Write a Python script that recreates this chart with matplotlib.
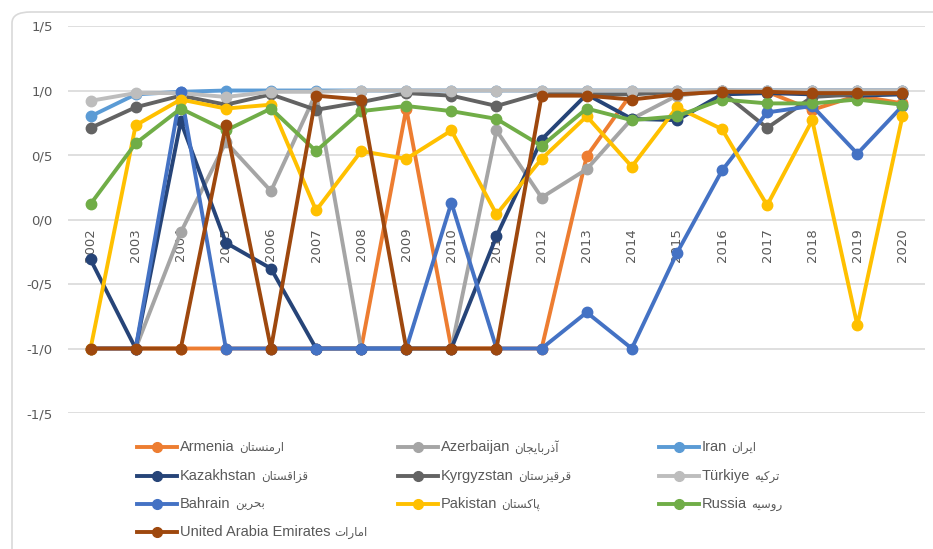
import matplotlib.pyplot as plt
from matplotlib.lines import Line2D
from matplotlib.patches import FancyBboxPatch

years = list(range(2002, 2021))

armenia = [-1, -1, -1, -1, -1, -1, -1, 0.86, -1, -1, -1, 0.49, 0.98, 0.99, 1.0, 0.99, 0.85, 0.96, 0.90]
azerbaijan = [-1, -1, -0.1, 0.6, 0.22, 0.98, -1, -1, -1, 0.69, 0.17, 0.39, 0.78, 0.96, 1.0, 1.0, 1.0, 1.0, 1.0]
iran = [0.80, 0.97, 0.99, 1.0, 1.0, 1.0, 1.0, 1.0, 1.0, 1.0, 1.0, 1.0, 1.0, 1.0, 1.0, 1.0, 1.0, 1.0, 1.0]
kazakhstan = [-0.31, -1, 0.76, -0.18, -0.38, -1, -1, -1, -1, -0.13, 0.62, 0.97, 0.78, 0.77, 0.97, 0.98, 0.97, 0.96, 0.97]
kyrgyzstan = [0.71, 0.87, 0.96, 0.89, 0.97, 0.85, 0.91, 0.98, 0.96, 0.88, 0.98, 0.97, 0.97, 0.99, 0.99, 0.71, 0.95, 0.97, 0.98]
turkiye = [0.92, 0.98, 0.98, 0.95, 0.99, 0.99, 1.0, 1.0, 1.0, 1.0, 1.0, 1.0, 1.0, 1.0, 1.0, 1.0, 1.0, 1.0, 1.0]
bahrain = [-1, -1, 0.99, -1, -1, -1, -1, -1, 0.13, -1, -1, -0.72, -1, -0.26, 0.38, 0.83, 0.88, 0.51, 0.88]
pakistan = [-1, 0.73, 0.93, 0.86, 0.89, 0.07, 0.53, 0.47, 0.69, 0.04, 0.47, 0.80, 0.41, 0.87, 0.70, 0.11, 0.77, -0.82, 0.80]
russia = [0.12, 0.59, 0.86, 0.69, 0.86, 0.53, 0.84, 0.88, 0.84, 0.78, 0.57, 0.86, 0.77, 0.80, 0.93, 0.90, 0.90, 0.93, 0.89]
uae = [-1, -1, -1, 0.73, -1, 0.96, 0.93, -1, -1, -1, 0.96, 0.96, 0.93, 0.97, 0.99, 0.99, 0.98, 0.98, 0.98]

names_en = ['Armenia', 'Azerbaijan', 'Iran', 'Kazakhstan', 'Kyrgyzstan', 'Türkiye',
            'Bahrain', 'Pakistan', 'Russia', 'United Arabia Emirates']
names_fa = ['ارمنستان', 'آذربایجان', 'ایران', 'قزاقستان', 'قرقیزستان', 'ترکیه',
            'بحرین', 'پاکستان', 'روسیه', 'امارات']
colors = ['#ED7D31', '#A5A5A5', '#5B9BD5', '#264478', '#636363', '#BDBDBD',
          '#4472C4', '#FFC000', '#70AD47', '#9E480E']
series = [armenia, azerbaijan, iran, kazakhstan, kyrgyzstan, turkiye,
          bahrain, pakistan, russia, uae]

# isolated, final, initial, medial presentation forms (matplotlib has no arabic shaping)
AR_FORMS = {
    '\u0627': (0xFE8D, 0xFE8E), '\u0622': (0xFE81, 0xFE82),
    '\u0631': (0xFEAD, 0xFEAE), '\u0630': (0xFEAB, 0xFEAC),
    '\u0632': (0xFEAF, 0xFEB0), '\u0648': (0xFEED, 0xFEEE),
    '\u0628': (0xFE8F, 0xFE90, 0xFE91, 0xFE92), '\u062A': (0xFE95, 0xFE96, 0xFE97, 0xFE98),
    '\u062C': (0xFE9D, 0xFE9E, 0xFE9F, 0xFEA0), '\u062D': (0xFEA1, 0xFEA2, 0xFEA3, 0xFEA4),
    '\u0633': (0xFEB1, 0xFEB2, 0xFEB3, 0xFEB4), '\u0642': (0xFED5, 0xFED6, 0xFED7, 0xFED8),
    '\u0645': (0xFEE1, 0xFEE2, 0xFEE3, 0xFEE4), '\u0646': (0xFEE5, 0xFEE6, 0xFEE7, 0xFEE8),
    '\u0647': (0xFEE9, 0xFEEA, 0xFEEB, 0xFEEC), '\u06CC': (0xFBFC, 0xFBFD, 0xFBFE, 0xFBFF),
    '\u067E': (0xFB56, 0xFB57, 0xFB58, 0xFB59), '\u06A9': (0xFB8E, 0xFB8F, 0xFB90, 0xFB91),
}


def shape_fa(word):
    word = word.replace('\u064A', '\u06CC').replace('\u0643', '\u06A9')
    out = []
    for i, ch in enumerate(word):
        forms = AR_FORMS[ch]
        prev_j = i > 0 and len(AR_FORMS[word[i - 1]]) == 4
        next_j = i < len(word) - 1 and len(forms) == 4
        if prev_j and next_j:
            f = forms[3]
        elif prev_j:
            f = forms[1]
        elif next_j:
            f = forms[2]
        else:
            f = forms[0]
        out.append(chr(f))
    return ''.join(reversed(out))


fig = plt.figure(figsize=(9.33, 5.49), dpi=100)
fig.patches.append(FancyBboxPatch((12 / 933, -0.1), 1.2, 1.1 - 12 / 549,
                                  boxstyle='round,pad=0,rounding_size=0.02',
                                  transform=fig.transFigure, fill=False,
                                  edgecolor='#D9D9D9', lw=1.2))
ax = fig.add_axes([68 / 933, 136 / 549, 857 / 933, 387 / 549])

for vals, c in zip(series, colors):
    ax.plot(years, vals, color=c, lw=2.8, marker='o', ms=7.5, zorder=3)

ax.set_xlim(2001.5, 2020.5)
ax.set_ylim(-1.5, 1.5)
yt = [-1.5, -1.0, -0.5, 0.0, 0.5, 1.0, 1.5]
ax.set_yticks(yt)
ax.set_yticklabels([f'{v:.1f}'.replace('.', '/') for v in yt], color='#595959', fontsize=9.5)
ax.tick_params(axis='y', length=0, pad=11)
ax.set_xticks([])
ax.grid(axis='y', color='#D9D9D9', lw=1.2, zorder=0)
for s in ax.spines.values():
    s.set_visible(False)

for yr in years:
    ax.annotate(str(yr), (yr, 0), xytext=(0, -6), textcoords='offset points',
                rotation=90, ha='center', va='top', fontsize=9.5, color='#595959', zorder=1)

# legend, 3 columns filled row by row
col_x = [137, 398, 659]
row_y = [447, 476, 504, 532]
for i, (en, fa, c) in enumerate(zip(names_en, names_fa, colors)):
    x0 = col_x[i % 3] / 933
    y0 = 1 - row_y[i // 3] / 549
    x1 = x0 + 40 / 933
    fig.add_artist(Line2D([x0, (x0 + x1) / 2, x1], [y0, y0, y0], transform=fig.transFigure,
                          color=c, lw=2.8, marker='o', ms=7, markevery=[1]))
    t = fig.text(x1 + 3 / 933, y0, en, va='center', ha='left',
                 fontsize=10.5, color='#595959', family='Liberation Sans')
    ax.annotate(shape_fa(fa), xy=(1, 0.5), xycoords=t, xytext=(3, -0.5), textcoords='offset points',
                va='center', ha='left', fontsize=8.5, color='#595959', family='DejaVu Sans')

fig.savefig('out.png', dpi=100)
